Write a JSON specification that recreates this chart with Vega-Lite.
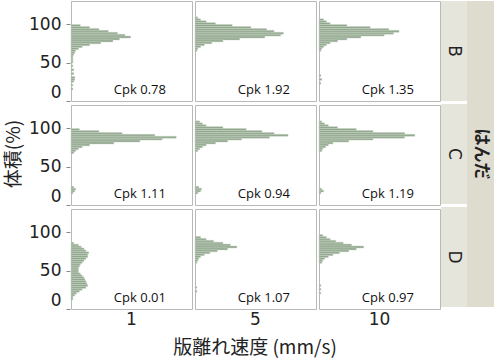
{
  "$schema": "https://vega.github.io/schema/vega-lite/v6.json",
  "padding": {"left": 0, "top": 0, "right": 0, "bottom": 0},
  "background": "white",
  "config": {"view": {"stroke": "#b8b8b8"}, "font": "DejaVu Sans"},
  "datasets": {
    "hist": [
      {"s":"B","p":1,"v":97.5,"n":10},{"s":"B","p":1,"v":95,"n":20},{"s":"B","p":1,"v":92.5,"n":30},{"s":"B","p":1,"v":90,"n":40},{"s":"B","p":1,"v":87.5,"n":50},{"s":"B","p":1,"v":85,"n":58},{"s":"B","p":1,"v":82.5,"n":64},{"s":"B","p":1,"v":80,"n":52},{"s":"B","p":1,"v":77.5,"n":45},{"s":"B","p":1,"v":75,"n":32},{"s":"B","p":1,"v":72.5,"n":20},{"s":"B","p":1,"v":70,"n":12},{"s":"B","p":1,"v":67.5,"n":8},{"s":"B","p":1,"v":65,"n":5},{"s":"B","p":1,"v":62.5,"n":4},{"s":"B","p":1,"v":60,"n":3},{"s":"B","p":1,"v":57.5,"n":2},{"s":"B","p":1,"v":55,"n":2},{"s":"B","p":1,"v":52.5,"n":2},{"s":"B","p":1,"v":50,"n":2},{"s":"B","p":1,"v":45,"n":2},{"s":"B","p":1,"v":40,"n":3},{"s":"B","p":1,"v":35,"n":3},{"s":"B","p":1,"v":30,"n":4},{"s":"B","p":1,"v":27.5,"n":4},{"s":"B","p":1,"v":25,"n":3},{"s":"B","p":1,"v":20,"n":2},{"s":"B","p":1,"v":15,"n":2},
      {"s":"B","p":5,"v":107.5,"n":3},{"s":"B","p":5,"v":105,"n":6},{"s":"B","p":5,"v":102.5,"n":12},{"s":"B","p":5,"v":100,"n":22},{"s":"B","p":5,"v":97.5,"n":40},{"s":"B","p":5,"v":95,"n":60},{"s":"B","p":5,"v":92.5,"n":77},{"s":"B","p":5,"v":90,"n":85},{"s":"B","p":5,"v":87.5,"n":95},{"s":"B","p":5,"v":85,"n":92},{"s":"B","p":5,"v":82.5,"n":75},{"s":"B","p":5,"v":80,"n":48},{"s":"B","p":5,"v":77.5,"n":30},{"s":"B","p":5,"v":75,"n":18},{"s":"B","p":5,"v":72.5,"n":10},{"s":"B","p":5,"v":70,"n":6},{"s":"B","p":5,"v":67.5,"n":3},{"s":"B","p":5,"v":65,"n":2},
      {"s":"B","p":10,"v":105,"n":5},{"s":"B","p":10,"v":102.5,"n":8},{"s":"B","p":10,"v":100,"n":12},{"s":"B","p":10,"v":97.5,"n":30},{"s":"B","p":10,"v":95,"n":55},{"s":"B","p":10,"v":92.5,"n":75},{"s":"B","p":10,"v":90,"n":86},{"s":"B","p":10,"v":87.5,"n":80},{"s":"B","p":10,"v":85,"n":70},{"s":"B","p":10,"v":82.5,"n":45},{"s":"B","p":10,"v":80,"n":30},{"s":"B","p":10,"v":77.5,"n":20},{"s":"B","p":10,"v":75,"n":12},{"s":"B","p":10,"v":72.5,"n":8},{"s":"B","p":10,"v":70,"n":5},{"s":"B","p":10,"v":67.5,"n":3},{"s":"B","p":10,"v":65,"n":2},{"s":"B","p":10,"v":32.5,"n":2},{"s":"B","p":10,"v":27.5,"n":3},{"s":"B","p":10,"v":22.5,"n":2},
      {"s":"C","p":1,"v":97.5,"n":9},{"s":"C","p":1,"v":95,"n":30},{"s":"C","p":1,"v":92.5,"n":55},{"s":"C","p":1,"v":90,"n":90},{"s":"C","p":1,"v":87.5,"n":113},{"s":"C","p":1,"v":85,"n":98},{"s":"C","p":1,"v":82.5,"n":74},{"s":"C","p":1,"v":80,"n":46},{"s":"C","p":1,"v":77.5,"n":20},{"s":"C","p":1,"v":75,"n":12},{"s":"C","p":1,"v":72.5,"n":8},{"s":"C","p":1,"v":70,"n":5},{"s":"C","p":1,"v":67.5,"n":3},{"s":"C","p":1,"v":22.5,"n":3},{"s":"C","p":1,"v":20,"n":5},{"s":"C","p":1,"v":17.5,"n":4},{"s":"C","p":1,"v":15,"n":2},
      {"s":"C","p":5,"v":107.5,"n":5},{"s":"C","p":5,"v":105,"n":8},{"s":"C","p":5,"v":102.5,"n":12},{"s":"C","p":5,"v":100,"n":30},{"s":"C","p":5,"v":97.5,"n":55},{"s":"C","p":5,"v":95,"n":72},{"s":"C","p":5,"v":92.5,"n":85},{"s":"C","p":5,"v":90,"n":100},{"s":"C","p":5,"v":87.5,"n":80},{"s":"C","p":5,"v":85,"n":50},{"s":"C","p":5,"v":82.5,"n":35},{"s":"C","p":5,"v":80,"n":22},{"s":"C","p":5,"v":77.5,"n":12},{"s":"C","p":5,"v":75,"n":8},{"s":"C","p":5,"v":72.5,"n":5},{"s":"C","p":5,"v":70,"n":3},{"s":"C","p":5,"v":22.5,"n":4},{"s":"C","p":5,"v":20,"n":7},{"s":"C","p":5,"v":17.5,"n":6},{"s":"C","p":5,"v":15,"n":3},
      {"s":"C","p":10,"v":107.5,"n":3},{"s":"C","p":10,"v":105,"n":6},{"s":"C","p":10,"v":102.5,"n":10},{"s":"C","p":10,"v":100,"n":20},{"s":"C","p":10,"v":97.5,"n":40},{"s":"C","p":10,"v":95,"n":58},{"s":"C","p":10,"v":92.5,"n":92},{"s":"C","p":10,"v":90,"n":103},{"s":"C","p":10,"v":87.5,"n":92},{"s":"C","p":10,"v":85,"n":58},{"s":"C","p":10,"v":82.5,"n":32},{"s":"C","p":10,"v":80,"n":15},{"s":"C","p":10,"v":77.5,"n":10},{"s":"C","p":10,"v":75,"n":7},{"s":"C","p":10,"v":72.5,"n":4},{"s":"C","p":10,"v":70,"n":3},{"s":"C","p":10,"v":20,"n":3},{"s":"C","p":10,"v":17.5,"n":5},{"s":"C","p":10,"v":15,"n":2},
      {"s":"D","p":1,"v":85,"n":3},{"s":"D","p":1,"v":82.5,"n":8},{"s":"D","p":1,"v":80,"n":11},{"s":"D","p":1,"v":77.5,"n":14},{"s":"D","p":1,"v":75,"n":16},{"s":"D","p":1,"v":72.5,"n":19},{"s":"D","p":1,"v":70,"n":18},{"s":"D","p":1,"v":67.5,"n":18},{"s":"D","p":1,"v":65,"n":16},{"s":"D","p":1,"v":62.5,"n":14},{"s":"D","p":1,"v":60,"n":12},{"s":"D","p":1,"v":57.5,"n":10},{"s":"D","p":1,"v":55,"n":9},{"s":"D","p":1,"v":52.5,"n":8},{"s":"D","p":1,"v":50,"n":8},{"s":"D","p":1,"v":47.5,"n":8},{"s":"D","p":1,"v":45,"n":10},{"s":"D","p":1,"v":42.5,"n":12},{"s":"D","p":1,"v":40,"n":14},{"s":"D","p":1,"v":37.5,"n":15},{"s":"D","p":1,"v":35,"n":16},{"s":"D","p":1,"v":32.5,"n":17},{"s":"D","p":1,"v":30,"n":18},{"s":"D","p":1,"v":27.5,"n":16},{"s":"D","p":1,"v":25,"n":12},{"s":"D","p":1,"v":22.5,"n":9},{"s":"D","p":1,"v":20,"n":6},{"s":"D","p":1,"v":17.5,"n":4},{"s":"D","p":1,"v":15,"n":2},{"s":"D","p":1,"v":12.5,"n":2},
      {"s":"D","p":5,"v":92.5,"n":6},{"s":"D","p":5,"v":90,"n":12},{"s":"D","p":5,"v":87.5,"n":20},{"s":"D","p":5,"v":85,"n":30},{"s":"D","p":5,"v":82.5,"n":38},{"s":"D","p":5,"v":80,"n":45},{"s":"D","p":5,"v":77.5,"n":35},{"s":"D","p":5,"v":75,"n":24},{"s":"D","p":5,"v":72.5,"n":16},{"s":"D","p":5,"v":70,"n":10},{"s":"D","p":5,"v":67.5,"n":6},{"s":"D","p":5,"v":65,"n":4},{"s":"D","p":5,"v":62.5,"n":3},{"s":"D","p":5,"v":60,"n":2},{"s":"D","p":5,"v":27.5,"n":2},{"s":"D","p":5,"v":22.5,"n":2},
      {"s":"D","p":10,"v":95,"n":4},{"s":"D","p":10,"v":92.5,"n":8},{"s":"D","p":10,"v":90,"n":12},{"s":"D","p":10,"v":87.5,"n":18},{"s":"D","p":10,"v":85,"n":26},{"s":"D","p":10,"v":82.5,"n":35},{"s":"D","p":10,"v":80,"n":48},{"s":"D","p":10,"v":77.5,"n":40},{"s":"D","p":10,"v":75,"n":32},{"s":"D","p":10,"v":72.5,"n":22},{"s":"D","p":10,"v":70,"n":15},{"s":"D","p":10,"v":67.5,"n":10},{"s":"D","p":10,"v":65,"n":6},{"s":"D","p":10,"v":62.5,"n":4},{"s":"D","p":10,"v":60,"n":3},{"s":"D","p":10,"v":30,"n":2},{"s":"D","p":10,"v":25,"n":2},{"s":"D","p":10,"v":20,"n":2},
      {"s":"B","p":1,"c":"Cpk 0.78"},{"s":"B","p":5,"c":"Cpk 1.92"},{"s":"B","p":10,"c":"Cpk 1.35"},
      {"s":"C","p":1,"c":"Cpk 1.11"},{"s":"C","p":5,"c":"Cpk 0.94"},{"s":"C","p":10,"c":"Cpk 1.19"},
      {"s":"D","p":1,"c":"Cpk 0.01"},{"s":"D","p":5,"c":"Cpk 1.07"},{"s":"D","p":10,"c":"Cpk 0.97"}
    ],
    "rows": [{"s":"B"},{"s":"C"},{"s":"D"}],
    "ttl": [{"t":"はんだ"}],
    "ytl": [{"t":"体積(%)"}]
  },
  "spacing": 0,
  "hconcat": [
    {
      "data": {"name": "ytl"},
      "width": 28,
      "height": 306,
      "view": {"stroke": null},
      "mark": {"type": "text", "angle": 270, "fontSize": 19, "font": "Noto Sans CJK JP", "color": "#222"},
      "encoding": {"text": {"field": "t"}}
    },
    {
      "data": {"name": "hist"},
      "facet": {
        "row": {"field": "s", "type": "nominal", "header": null},
        "column": {"field": "p", "type": "ordinal", "title": "版離れ速度 (mm/s)",
          "header": {"labelOrient": "bottom", "titleOrient": "bottom", "labelFontSize": 17, "labelFont": "DejaVu Sans", "labelColor": "#222", "labelPadding": 2, "titleFont": "Noto Sans CJK JP", "titleFontSize": 19, "titleFontWeight": "normal", "titleColor": "#222", "titlePadding": 1}}
      },
      "spacing": {"row": 2, "column": 1},
      "spec": {
        "width": 121,
        "height": 100,
        "layer": [
          {
            "transform": [{"filter": "datum.n != null"}],
            "mark": {"type": "bar", "fill": "#8ea58a", "stroke": "#c9d5c6", "strokeWidth": 0.5, "binSpacing": 0},
            "encoding": {
              "x": {"field": "n", "type": "quantitative", "scale": {"domain": [0, 121]}, "axis": null},
              "y": {"field": "v", "type": "quantitative", "bin": {"binned": true, "step": 2.5}, "scale": {"domain": [0, 125]}, "title": null,
                "axis": {"values": [0, 50, 100], "labelFontSize": 17, "labelFont": "DejaVu Sans", "labelColor": "#222", "labelFlush": true, "grid": false, "domain": false, "tickColor": "#888", "tickSize": 4, "labelPadding": 5}}
            }
          },
          {
            "transform": [{"filter": "datum.c != null"}],
            "mark": {"type": "text", "font": "Open Sans", "fontSize": 13, "align": "right", "baseline": "middle", "color": "#111"},
            "encoding": {
              "text": {"field": "c"},
              "x": {"datum": 102},
              "y": {"datum": 14}
            }
          }
        ]
      }
    },
    {
      "data": {"name": "rows"},
      "width": 26,
      "height": 306,
      "view": {"stroke": null},
      "layer": [
        {"mark": {"type": "rect", "fill": "#e6e5dc"},
         "encoding": {"y": {"field": "s", "type": "nominal", "axis": null, "scale": {"paddingInner": 0.03, "paddingOuter": 0}}}},
        {"mark": {"type": "text", "angle": 90, "fontSize": 17, "font": "DejaVu Sans", "color": "#222"},
         "encoding": {"y": {"field": "s", "type": "nominal", "axis": null}, "text": {"field": "s"}}}
      ]
    },
    {
      "data": {"name": "ttl"},
      "width": 27,
      "height": 306,
      "view": {"stroke": null, "fill": "#dedbcf"},
      "mark": {"type": "text", "angle": 90, "fontSize": 17, "fontWeight": "bold", "font": "Noto Sans CJK JP", "color": "#222"},
      "encoding": {"text": {"field": "t"}}
    }
  ]
}
